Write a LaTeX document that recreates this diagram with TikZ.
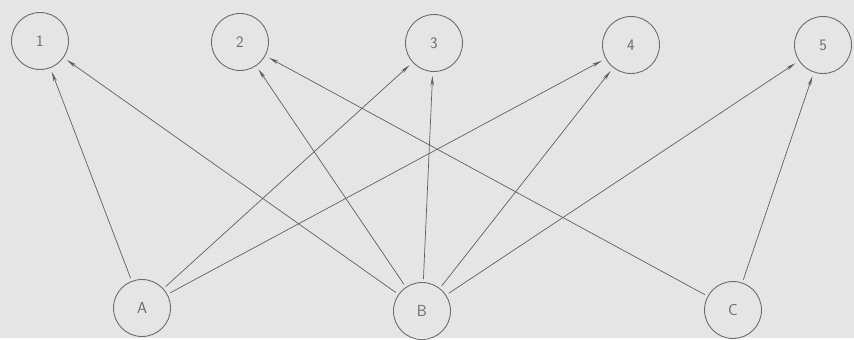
\documentclass[tikz,border=0pt]{standalone}
\usepackage{tikz}
\usetikzlibrary{arrows.meta}

\tikzset{
  vertex/.style={draw=gray!85!black, line width=0.9pt, circle, minimum size=57pt, inner sep=0pt,
    font=\fontsize{16}{19}\sffamily, text=gray!85!black},
  arc/.style={draw=gray!75!black, line width=0.7pt, -{Stealth[length=10pt,width=3.5pt]},
    shorten >=4pt, shorten <=3pt}
}

\begin{document}
\begin{tikzpicture}[x=1pt,y=-1pt]
			\fill[gray!20] (0,0) rectangle (854,338);

			% upper row
			\foreach \name/\x/\y in {
				1/40/41,
				2/240/42,
				3/434/43,
				4/631/45,
				5/823/45
			}{
				\node[vertex] (\name) at (\x,\y) {\name};
			}

			% lower row
			\foreach \name/\x/\y in {
				A/142/308,
				B/422/311,
				C/733/310
			}{
				\node[vertex] (\name) at (\x,\y) {\name};
			}

			\foreach \s/\t in {A/1, A/3, A/4, B/1, B/2, B/3, B/4, B/5, C/2, C/5}
				\draw[arc] (\s) -- (\t);
		\end{tikzpicture}
\end{document}
